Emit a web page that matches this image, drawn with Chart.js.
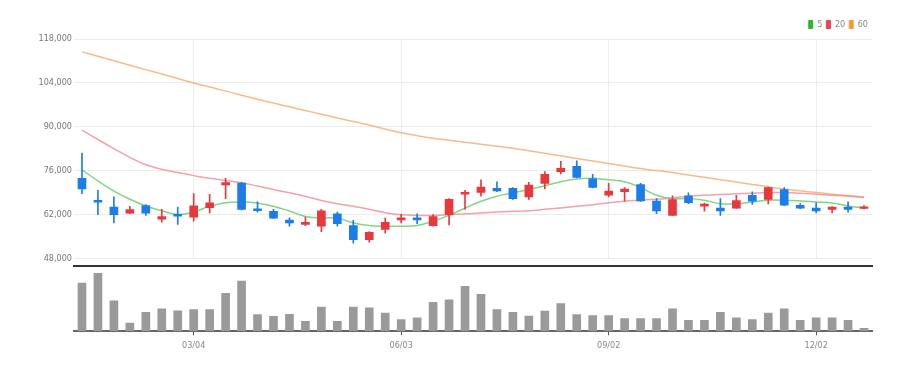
<!DOCTYPE html>
<html>
<head>
<meta charset="utf-8">
<script src="https://cdn.jsdelivr.net/npm/chart.js@4"></script>
<style>
html, body { margin: 0; padding: 0; background: #fff; }
#wrap { position: relative; width: 918px; height: 369px; overflow: hidden; }
#priceBox { position: absolute; left: 0; top: 0; width: 918px; height: 266px; }
#volBox { position: absolute; left: 0; top: 264px; width: 918px; height: 105px; }
</style>
</head>
<body>
<div id="wrap">
    <div id="priceBox"><canvas id="priceChart"></canvas></div>
    <div id="volBox"><canvas id="volChart"></canvas></div>
</div>
<script>
// 주봉 날짜 (MM/DD)
const dates = ['01/14','01/21','01/28','02/04','02/11','02/18','02/25','03/04','03/11','03/18',
    '03/25','04/01','04/08','04/15','04/22','04/29','05/06','05/13','05/20','05/27',
    '06/03','06/10','06/17','06/24','07/01','07/08','07/15','07/22','07/29','08/05',
    '08/12','08/19','08/26','09/02','09/09','09/16','09/23','09/30','10/07','10/14',
    '10/21','10/28','11/04','11/11','11/18','11/25','12/02','12/09','12/16','12/23'];
// x축에 보이는 날짜
const tickDates = ['03/04', '06/03', '09/02', '12/02'];
const priceTicks = [48000, 62000, 76000, 90000, 104000, 118000];

const opens  = [73600,66600,64400,62500,64900,60600,62100,61200,64200,71500,72100,63900,63100,60300,58900,58300,62300,58500,54000,57300,60300,61000,58500,62000,68500,69100,70400,70400,67700,72000,75700,77400,73400,68200,69300,71600,66300,61800,68000,64700,64100,64100,68200,66900,70000,65000,64100,63700,64400,64000];
const closes = [70200,66000,62000,63600,62500,61400,61500,64800,65800,72200,63700,63300,60900,59400,59600,63200,59100,54000,56400,59600,61000,60300,61400,66900,69100,70800,69600,67100,71400,74900,76800,73900,70700,69500,70200,66400,63200,66800,65800,65400,63200,66500,66300,70600,65000,64100,63200,64400,63700,64500];
const highs  = [81600,69800,67700,64700,65200,63700,64400,68700,68500,73600,72300,66100,63700,61000,61200,63700,62800,60200,56600,60900,62100,62300,62000,67100,69800,73100,72500,70600,72300,75700,79000,79200,74900,72000,70600,72000,67100,68000,69000,65700,67100,68200,69300,70800,70600,65500,65800,64500,66100,64900];
const lows   = [68700,62000,59400,62300,61800,59600,58900,59900,62600,67100,63500,62800,60700,58300,58500,56600,58300,52900,53200,56100,59400,59100,58300,58700,63700,67900,69300,66900,66900,70200,75000,73700,70500,67700,66300,66200,62300,61700,65500,63100,61800,64000,65300,65400,64900,63900,62600,62600,62800,63800];
const volumes = [453000,547000,287000,77000,177000,210000,193000,203000,203000,357000,473000,157000,140000,160000,93000,227000,93000,227000,220000,170000,110000,127000,273000,297000,423000,347000,203000,177000,143000,190000,260000,157000,147000,147000,120000,120000,120000,210000,103000,103000,177000,127000,110000,170000,210000,103000,127000,127000,103000,27000];

// 이동평균선
const ma5  = [76280,72740,69510,66930,64770,63260,62090,62835,64670,65840,66060,65740,64670,63160,61450,61000,60900,59380,58540,58320,58320,58540,59930,61770,64130,66290,67900,68970,70030,71220,72510,73380,73580,73100,72510,70670,68220,67130,67130,66610,65510,65510,66060,66610,66610,66390,66060,65740,64770,64130];
const ma20 = [88970,85970,83060,80260,77900,76480,75420,74450,73580,72930,72190,71130,70030,68970,67900,66500,65510,64670,63710,62610,61960,61770,61770,61960,62290,62510,62840,63060,63260,63710,64130,64670,65190,65840,66290,66610,66930,67350,67900,68220,68420,68640,68870,69060,69060,68870,68550,68220,67900,67450];
const ma60 = [113900,112520,111060,109610,108230,106870,105420,103970,102680,101390,100100,98810,97580,96390,95190,94030,92840,91710,90580,89290,88100,87190,86390,85740,85100,84450,83800,83160,82350,81550,80800,79930,79130,78320,77510,76710,76060,75420,74670,73900,73160,72420,71640,70900,70160,69610,69060,68550,68090,67670];

const FONT = "'Liberation Sans Narrow', 'DejaVu Sans Condensed', 'Liberation Sans', sans-serif";
const UP = '#e8383d';
const DOWN = '#1b7de8';
const candleColors = opens.map((o, i) => closes[i] >= o ? UP : DOWN);
const showTick = i => tickDates.includes(dates[i]);

new Chart(document.getElementById('priceChart'), {
    type: 'bar',
    data: {
        labels: dates,
        datasets: [
            { label: 'body', data: opens.map((o, i) => [o, closes[i]]), backgroundColor: candleColors, barThickness: 8, grouped: false, order: 0 },
            { label: 'wick', data: lows.map((l, i) => [l, highs[i]]), backgroundColor: candleColors, barThickness: 1, grouped: false, order: 1 },
            { type: 'line', label: '5', data: ma5, borderColor: 'rgba(110,205,110,0.85)', backgroundColor: '#2db82d', borderWidth: 1.5, pointRadius: 0, tension: 0.4, order: 2 },
            { type: 'line', label: '20', data: ma20, borderColor: 'rgba(240,130,140,0.75)', backgroundColor: '#ef4155', borderWidth: 1.5, pointRadius: 0, tension: 0.4, order: 3 },
            { type: 'line', label: '60', data: ma60, borderColor: 'rgba(245,170,110,0.8)', backgroundColor: '#f39a3b', borderWidth: 1.5, pointRadius: 0, tension: 0.4, order: 4 }
        ]
    },
    options: {
        responsive: true,
        maintainAspectRatio: false,
        animation: false,
        layout: { padding: { left: 0, right: 46, top: 16, bottom: 3 } },
        plugins: {
            tooltip: { enabled: false },
            legend: {
                position: 'top',
                align: 'end',
                labels: {
                    boxWidth: 4,
                    boxHeight: 8,
                    padding: 4,
                    color: '#888',
                    font: { family: FONT, size: 9 },
                    generateLabels: chart => Chart.defaults.plugins.legend.labels.generateLabels(chart)
                        .filter(l => l.datasetIndex >= 2)
                        .map(l => Object.assign(l, { strokeStyle: l.fillStyle, lineWidth: 1 }))
                }
            }
        },
        scales: {
            x: {
                ticks: { display: false, autoSkip: false },
                grid: { offset: false, drawTicks: false, color: ctx => showTick(ctx.index) ? '#ececec' : 'rgba(0,0,0,0)' },
                border: { display: false }
            },
            y: {
                min: 48000,
                max: 118000,
                afterBuildTicks: s => { s.ticks = priceTicks.map(v => ({ value: v })); },
                afterFit: s => { s.width = 74; },
                ticks: { padding: 2, color: '#777', font: { family: FONT, size: 9 }, callback: v => v.toLocaleString('en-US') },
                grid: { color: '#ececec', drawTicks: false },
                border: { display: false }
            }
        }
    }
});

new Chart(document.getElementById('volChart'), {
    type: 'bar',
    data: {
        labels: dates,
        datasets: [{ label: 'volume', data: volumes, backgroundColor: '#9a9a9a', barThickness: 8 }]
    },
    options: {
        responsive: true,
        maintainAspectRatio: false,
        animation: false,
        layout: { padding: { left: 74, right: 46, top: 2, bottom: 13 } },
        plugins: { legend: { display: false }, tooltip: { enabled: false } },
        scales: {
            x: {
                position: 'bottom',
                ticks: { autoSkip: false, maxRotation: 0, padding: 5, color: '#888', font: { family: FONT, size: 9 },
                    callback: (v, i) => showTick(i) ? dates[i] : '' },
                grid: { offset: false, drawOnChartArea: false, tickLength: 4, color: ctx => showTick(ctx.index) ? '#555' : 'rgba(0,0,0,0)' },
                border: { color: '#666', width: 2 }
            },
            xTop: {
                type: 'category',
                axis: 'x',
                position: 'top',
                ticks: { display: false },
                grid: { display: false, drawTicks: false },
                border: { color: '#333', width: 2 }
            },
            y: { display: false, min: 0, max: 615000 }
        }
    }
});
</script>
</body>
</html>
